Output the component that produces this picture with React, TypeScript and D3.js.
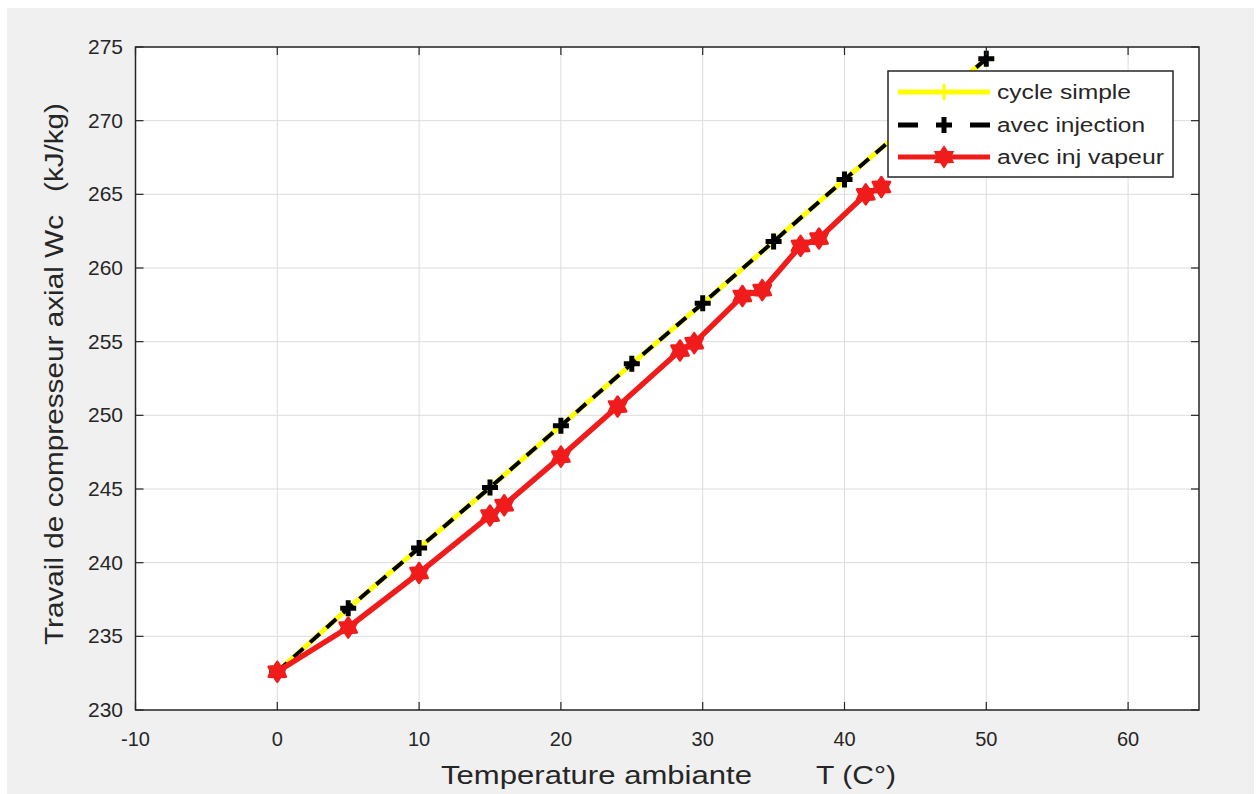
import React from "react";
import * as d3 from "d3";

const xTicks = [-10, 0, 10, 20, 30, 40, 50, 60];
const yTicks = [230, 235, 240, 245, 250, 255, 260, 265, 270, 275];

const simpleT = [0, 5, 10, 15, 20, 25, 30, 35, 40, 45, 50];
const simpleW = [232.6, 236.9, 241.0, 245.1, 249.3, 253.5, 257.6, 261.8, 266.0, 270.1, 274.2];

const injT = [0, 5, 10, 15, 20, 25, 30, 35, 40, 45, 50];
const injW = [232.6, 236.9, 241.0, 245.1, 249.3, 253.5, 257.6, 261.8, 266.0, 270.1, 274.2];

const vapT = [0, 5, 10, 15, 16, 20, 24, 28.4, 29.4, 32.8, 34.2, 36.9, 38.2, 41.5, 42.6];
const vapW = [232.6, 235.6, 239.3, 243.2, 243.9, 247.2, 250.6, 254.4, 254.9, 258.1, 258.5, 261.5, 262.0, 265.0, 265.5];

const legendLabels = ["cycle simple", "avec injection", "avec inj vapeur"];

const W = 1260;
const H = 794;
const M = { left: 135.5, right: 1199, top: 47, bottom: 710 };
const FONT = "'Liberation Sans', Arial, Helvetica, sans-serif";
const AX = "#262626";

function hexagram(cx: number, cy: number, r: number) {
  const pts: string[] = [];
  const inner = r * 0.62;
  for (let i = 0; i < 12; i++) {
    const a = (Math.PI / 6) * i - Math.PI / 2;
    const rr = i % 2 === 0 ? r : inner;
    pts.push(`${cx + rr * Math.cos(a)},${cy + rr * Math.sin(a)}`);
  }
  return `M${pts.join("L")}Z`;
}

function plus(cx: number, cy: number, s: number) {
  return `M${cx - s},${cy}L${cx + s},${cy}M${cx},${cy - s}L${cx},${cy + s}`;
}

export default function App() {
  const x = d3.scaleLinear().domain([-10, 65]).range([M.left, M.right]);
  const y = d3.scaleLinear().domain([230, 275]).range([M.bottom, M.top]);

  const line = d3
    .line<[number, number]>()
    .x((d) => x(d[0]))
    .y((d) => y(d[1]));

  const simple: [number, number][] = simpleT.map((t, i) => [t, simpleW[i]]);
  const inj: [number, number][] = injT.map((t, i) => [t, injW[i]]);
  const vap: [number, number][] = vapT.map((t, i) => [t, vapW[i]]);

  const lg = { x0: 888, y0: 71, x1: 1173, y1: 177 };
  const rows = [92, 125, 157];

  return (
    <div>
      <style>{`body{margin:0;}`}</style>
      <svg width={W} height={H} style={{ display: "block" }}>
        <rect x={0} y={0} width={W} height={H} fill="#ffffff" />
        <rect x={7} y={8} width={W - 13} height={H - 8} fill="#f0f0f0" />
        <rect
          x={M.left}
          y={M.top}
          width={M.right - M.left}
          height={M.bottom - M.top}
          fill="#ffffff"
        />
        {/* grid */}
        <g stroke="#dcdcdc" strokeWidth={1}>
          {xTicks.map((t) => (
            <line key={"gx" + t} x1={x(t)} x2={x(t)} y1={M.top} y2={M.bottom} />
          ))}
          {yTicks.map((t) => (
            <line key={"gy" + t} x1={M.left} x2={M.right} y1={y(t)} y2={y(t)} />
          ))}
        </g>
        <defs>
          <clipPath id="plotclip">
            <rect x={M.left} y={M.top} width={M.right - M.left} height={M.bottom - M.top} />
          </clipPath>
        </defs>
        <g clipPath="url(#plotclip)">
          {/* cycle simple */}
          <path d={line(simple) || ""} fill="none" stroke="#ffff00" strokeWidth={5} />
          {simple.map((d, i) => (
            <path key={"sm" + i} d={plus(x(d[0]), y(d[1]), 8)} stroke="#ffff00" strokeWidth={3} />
          ))}
          {/* avec injection */}
          <path
            d={line(inj) || ""}
            fill="none"
            stroke="#000000"
            strokeWidth={4}
            strokeDasharray="13,9"
          />
          {inj.map((d, i) => (
            <path key={"im" + i} d={plus(x(d[0]), y(d[1]), 8)} stroke="#000000" strokeWidth={5} />
          ))}
          {/* avec inj vapeur */}
          <path d={line(vap) || ""} fill="none" stroke="#f01c1c" strokeWidth={5.5} strokeLinejoin="round" />
          {vap.map((d, i) => (
            <path key={"vm" + i} d={hexagram(x(d[0]), y(d[1]), 10)} fill="#f01c1c" stroke="#f01c1c" strokeWidth={2.5} strokeLinejoin="round" />
          ))}
        </g>
        {/* axes box */}
        <rect
          x={M.left}
          y={M.top}
          width={M.right - M.left}
          height={M.bottom - M.top}
          fill="none"
          stroke={AX}
          strokeWidth={1.5}
        />
        <g stroke={AX} strokeWidth={1.2}>
          {xTicks.map((t) => (
            <g key={"tx" + t}>
              <line x1={x(t)} x2={x(t)} y1={M.bottom} y2={M.bottom - 8} />
              <line x1={x(t)} x2={x(t)} y1={M.top} y2={M.top + 8} />
            </g>
          ))}
          {yTicks.map((t) => (
            <g key={"ty" + t}>
              <line x1={M.left} x2={M.left + 8} y1={y(t)} y2={y(t)} />
              <line x1={M.right} x2={M.right - 8} y1={y(t)} y2={y(t)} />
            </g>
          ))}
        </g>
        <g fontFamily={FONT} fontSize={20} fill={AX}>
          {xTicks.map((t) => (
            <text key={"lx" + t} x={x(t)} y={746} textAnchor="middle">
              {t}
            </text>
          ))}
          {yTicks.map((t) => (
            <text key={"ly" + t} x={123} y={y(t) + 7} textAnchor="end" fontSize={21}>
              {t}
            </text>
          ))}
        </g>
        {/* axis labels */}
        <g fontFamily={FONT} fontSize={26} fill={AX}>
          <text x={441} y={784} textLength={311} lengthAdjust="spacingAndGlyphs">
            Temperature ambiante
          </text>
          <text x={816} y={784} textLength={80} lengthAdjust="spacingAndGlyphs">
            T (C°)
          </text>
          <text
            transform={`translate(63,645) rotate(-90)`}
            x={0}
            y={0}
            textLength={430}
            lengthAdjust="spacingAndGlyphs"
          >
            Travail de compresseur axial Wc
          </text>
          <text
            transform={`translate(63,192) rotate(-90)`}
            x={0}
            y={0}
            textLength={89}
            lengthAdjust="spacingAndGlyphs"
          >
            (kJ/kg)
          </text>
        </g>
        {/* legend */}
        <rect
          x={lg.x0}
          y={lg.y0}
          width={lg.x1 - lg.x0}
          height={lg.y1 - lg.y0}
          fill="#ffffff"
          stroke={AX}
          strokeWidth={1.5}
        />
        <g>
          <line x1={898} x2={990} y1={rows[0]} y2={rows[0]} stroke="#ffff00" strokeWidth={5} />
          <path d={plus(944, rows[0], 8)} stroke="#ffff00" strokeWidth={3} />
          <line x1={898} x2={918} y1={rows[1]} y2={rows[1]} stroke="#000" strokeWidth={5} />
          <line x1={970} x2={990} y1={rows[1]} y2={rows[1]} stroke="#000" strokeWidth={5} />
          <path d={plus(944, rows[1], 8)} stroke="#000" strokeWidth={5} />
          <line x1={898} x2={990} y1={rows[2]} y2={rows[2]} stroke="#f01c1c" strokeWidth={5} />
          <path d={hexagram(944, rows[2], 10)} fill="#f01c1c" stroke="#f01c1c" strokeWidth={2} />
        </g>
        <g fontFamily={FONT} fontSize={20} fill={AX}>
          <text x={997} y={rows[0] + 7} textLength={134} lengthAdjust="spacingAndGlyphs">
            {legendLabels[0]}
          </text>
          <text x={997} y={rows[1] + 7} textLength={148} lengthAdjust="spacingAndGlyphs">
            {legendLabels[1]}
          </text>
          <text x={997} y={rows[2] + 7} textLength={167} lengthAdjust="spacingAndGlyphs">
            {legendLabels[2]}
          </text>
        </g>
      </svg>
    </div>
  );
}
